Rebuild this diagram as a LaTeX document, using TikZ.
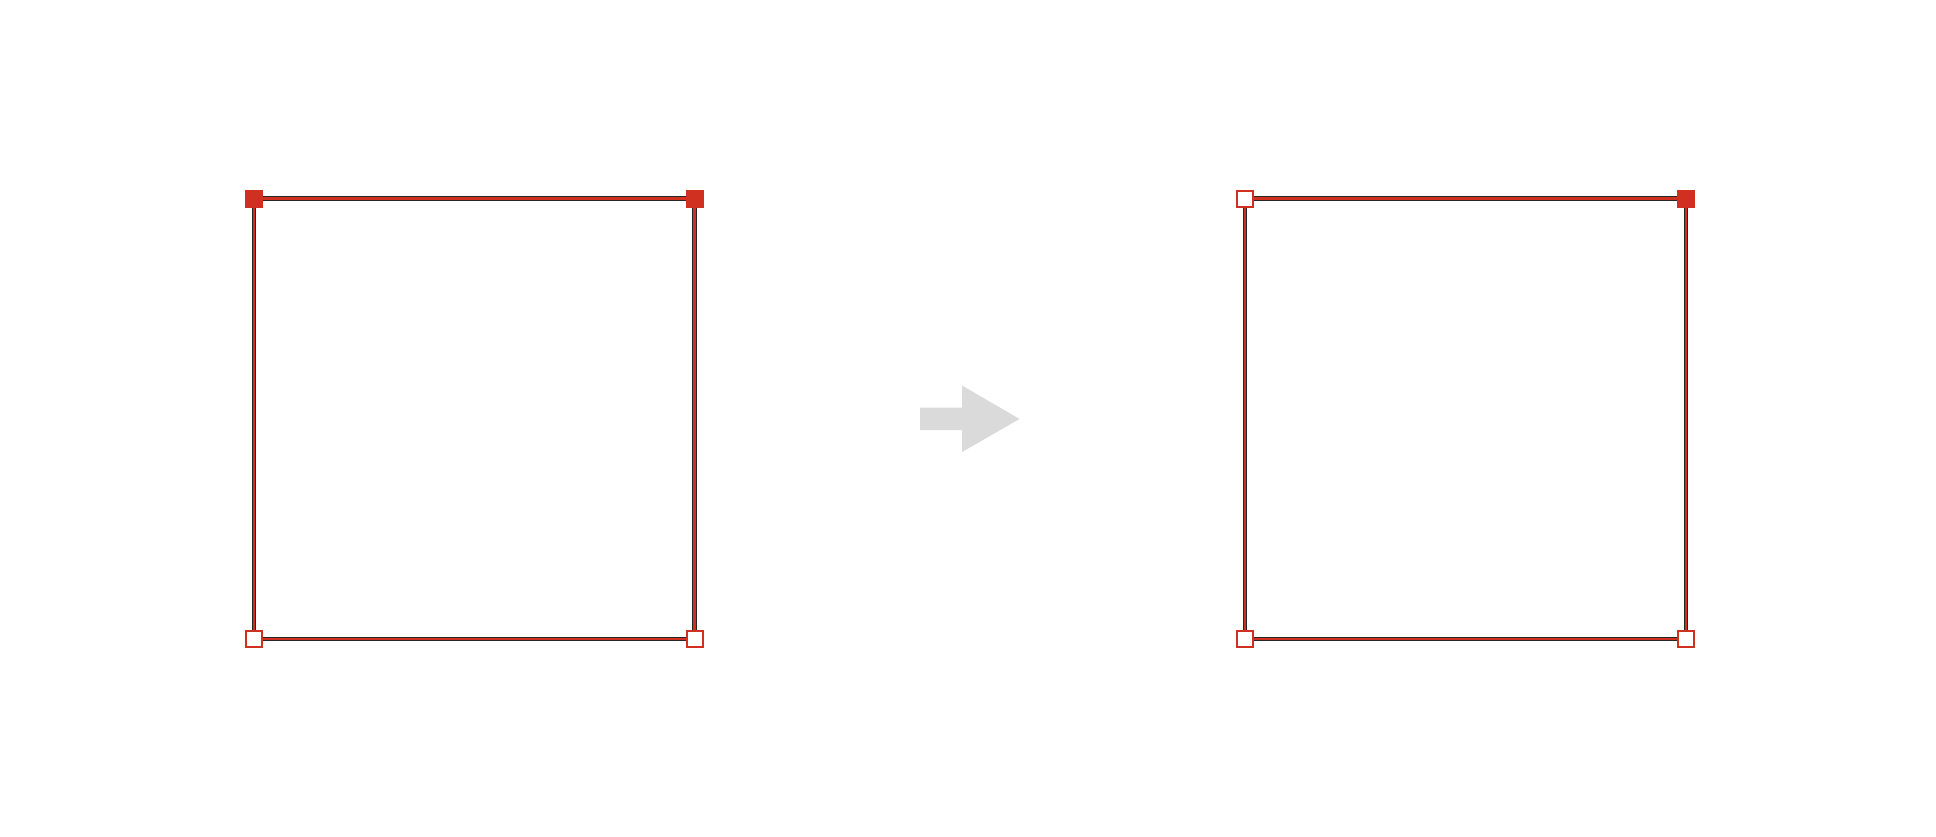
\documentclass[tikz,border=0pt]{standalone}
\definecolor{cred}{RGB}{208,48,32}
\definecolor{cgray}{RGB}{217,218,217}
\begin{document}
\begin{tikzpicture}[x=1pt,y=-1pt,
  edge/.style={draw=black!85, line width=1.1pt, double=cred, double distance=2.6pt},
  fullsq/.style={draw=cred, fill=cred, line width=1pt, minimum size=17pt, inner sep=0pt, outer sep=0pt, rectangle},
  opensq/.style={draw=cred, fill=white, line width=2pt, minimum size=16pt, inner sep=0pt, outer sep=0pt, rectangle}]
\useasboundingbox (0,0) rectangle (1936,836);
% left square corners
\coordinate (ltl) at (254,198.5);
\coordinate (ltr) at (694.5,198.5);
\coordinate (lbl) at (254,639);
\coordinate (lbr) at (694.5,639);
% right square corners
\coordinate (rtl) at (1245,198.5);
\coordinate (rtr) at (1686,198.5);
\coordinate (rbl) at (1245,639);
\coordinate (rbr) at (1686,639);
\draw[edge] (ltl) -- (ltr) -- (lbr) -- (lbl) -- cycle;
\draw[edge] (rtl) -- (rtr) -- (rbr) -- (rbl) -- cycle;
\node[fullsq] (LTL) at (ltl) {};
\node[fullsq] (LTR) at (ltr) {};
\node[opensq] (LBL) at (lbl) {};
\node[opensq] (LBR) at (lbr) {};
\node[opensq] (RTL) at (rtl) {};
\node[fullsq] (RTR) at (rtr) {};
\node[opensq] (RBL) at (rbl) {};
\node[opensq] (RBR) at (rbr) {};
% arrow
\fill[cgray] (920,407.5) -- (962,407.5) -- (962,385.5) -- (1019.5,419) -- (962,452) -- (962,430) -- (920,430) -- cycle;
\end{tikzpicture}
\end{document}
